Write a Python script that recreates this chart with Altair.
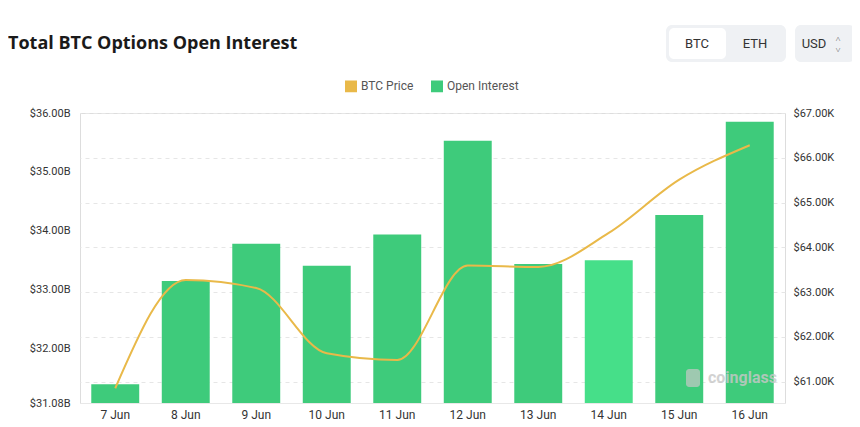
import altair as alt
import pandas as pd

dates = ["7 Jun", "8 Jun", "9 Jun", "10 Jun", "11 Jun", "12 Jun", "13 Jun", "14 Jun", "15 Jun", "16 Jun"]
open_interest_b = [31.40, 33.15, 33.78, 33.41, 33.94, 35.53, 33.44, 33.50, 34.27, 35.85]
btc_price_k = [60.85, 63.27, 63.09, 61.63, 61.48, 63.59, 63.56, 64.32, 65.51, 66.28]
left_ticks = [31.08, 32, 33, 34, 35, 36]
right_ticks = [61, 62, 63, 64, 65, 66, 67]
highlight_date = "14 Jun"

df = pd.DataFrame({
    "date": dates,
    "oi": open_interest_b,
    "price": btc_price_k,
})
df["s_bar"] = "Open Interest"
df["s_line"] = "BTC Price"

GREEN = "#3ecb7b"
GREEN_HI = "#46df89"
YELLOW = "#e9b949"
FONT = "Roboto"

color_scale = alt.Scale(domain=["BTC Price", "Open Interest"], range=[YELLOW, GREEN])

x_enc = alt.X(
    "date:N", sort=dates, title=None,
    scale=alt.Scale(paddingInner=0.32, paddingOuter=0.16),
    axis=alt.Axis(labelAngle=0, ticks=False, domainColor="#e8e8e8", labelPadding=6,
                  labelFontSize=12, labelColor="#333333", labelFont=FONT),
)

base = alt.Chart(df)

bars = base.mark_bar(clip=True).encode(
    x=x_enc,
    y=alt.Y("oi:Q", title=None,
            scale=alt.Scale(domain=[left_ticks[0], left_ticks[-1]], zero=False, nice=False),
            axis=alt.Axis(values=left_ticks, grid=False, ticks=False, domain=False,
                          labelPadding=10, labelFontSize=11, labelColor="#333333", labelFont=FONT,
                          labelExpr="'$' + format(datum.value, '.2f') + 'B'")),
    y2=alt.datum(left_ticks[0]),
    color=alt.condition(
        alt.datum.date == highlight_date,
        alt.value(GREEN_HI),
        alt.Color("s_bar:N", scale=color_scale,
                  legend=alt.Legend(title=None, orient="none", direction="horizontal",
                                    legendX=265, legendY=-33, symbolType="square",
                                    symbolSize=110, labelFontSize=12, labelColor="#555555",
                                    labelFont=FONT, columnPadding=14, symbolOpacity=1)),
    ),
)

line = base.mark_line(interpolate="monotone", strokeWidth=2).encode(
    x=x_enc,
    y=alt.Y("price:Q", title=None,
            scale=alt.Scale(domain=[60.52, 67], zero=False, nice=False),
            axis=alt.Axis(values=right_ticks, orient="right", grid=True, gridDash=[4, 4],
                          gridColor="#e6e6e6", ticks=False, domain=False, labelPadding=8,
                          labelFontSize=11, labelColor="#333333", labelFont=FONT,
                          labelExpr="'$' + format(datum.value, '.2f') + 'K'")),
    color=alt.Color("s_line:N", scale=color_scale, legend=None),
)

one = alt.Data(values=[{}])

title = alt.Chart(one).mark_text(
    text="Total BTC Options Open Interest", align="left", baseline="middle",
    fontSize=18, fontWeight="bold", font="Open Sans", color="#1a1a1a",
).encode(x=alt.value(-72), y=alt.value(-69))

btn_group = alt.Chart(one).mark_rect(color="#eff1f4", cornerRadius=6).encode(
    x=alt.value(586), x2=alt.value(706), y=alt.value(-88), y2=alt.value(-51))
btn_active = alt.Chart(one).mark_rect(color="#ffffff", cornerRadius=5).encode(
    x=alt.value(589), x2=alt.value(646), y=alt.value(-85), y2=alt.value(-54))
btn_usd = alt.Chart(one).mark_rect(color="#eff1f4", cornerRadius=6).encode(
    x=alt.value(715), x2=alt.value(775), y=alt.value(-88), y2=alt.value(-51))

def label(txt, x, y, size=13, color="#333333"):
    return alt.Chart(one).mark_text(text=txt, align="center", baseline="middle",
                                    fontSize=size, font=FONT, color=color).encode(
        x=alt.value(x), y=alt.value(y))

t_btc = label("BTC", 617, -69)
t_eth = label("ETH", 675, -69)
t_usd = label("USD", 734, -69)
t_up = label("˄", 758, -74, size=9, color="#555555")
t_dn = label("˅", 758, -63, size=9, color="#555555")

watermark = alt.Chart(one).mark_text(
    text="coinglass", align="left", baseline="middle", fontSize=16, fontWeight="bold",
    font=FONT, color="#c8c8c8", opacity=0.8,
).encode(x=alt.value(628), y=alt.value(265))
wm_icon = alt.Chart(one).mark_rect(color="#c8c8c8", opacity=0.7, cornerRadius=3).encode(
    x=alt.value(606), x2=alt.value(620), y=alt.value(256), y2=alt.value(274))

chart = alt.layer(
    bars, line, watermark, wm_icon, title, btn_group, btn_active, btn_usd,
    t_btc, t_eth, t_usd, t_up, t_dn,
).resolve_scale(y="independent", color="shared").properties(
    width=705, height=290,
    autosize=alt.AutoSizeParams(type="none"),
    padding={"left": 72, "top": 105, "right": 67, "bottom": 22},
).configure_view(stroke=None).configure(background="#ffffff")

chart.save("out.html", embed_options={"renderer": "svg", "actions": False})
